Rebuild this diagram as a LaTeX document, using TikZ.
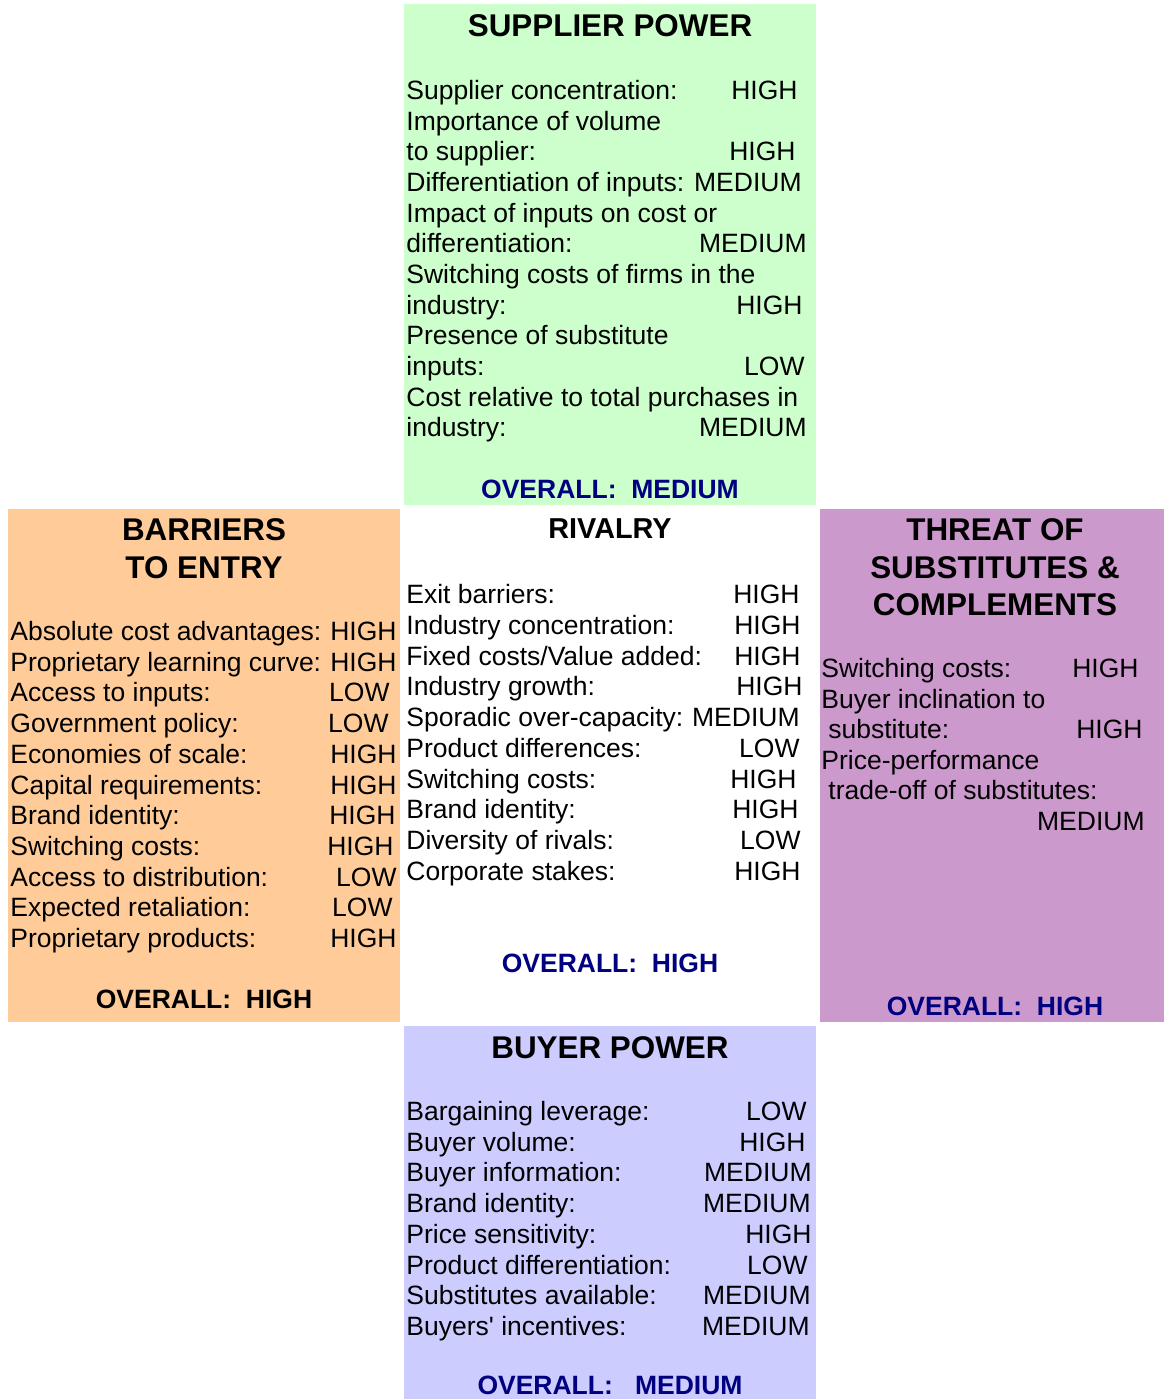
\documentclass[tikz,border=0pt]{standalone}
\usepackage{fontspec}
\setmainfont{Liberation Sans}[Ligatures=TeXOff]

\definecolor{supplierfill}{HTML}{CCFFCC}
\definecolor{entryfill}{HTML}{FFCC99}
\definecolor{substfill}{HTML}{CC99CC}
\definecolor{buyerfill}{HTML}{CCCCFF}
\definecolor{navy}{HTML}{000080}

\tikzset{
  heading/.style={anchor=north, inner sep=0pt, align=center,
    font=\fontsize{15.7}{18.75}\selectfont\bfseries},
  factor/.style={anchor=base west, inner sep=0pt,
    font=\fontsize{13.25}{15.35}\selectfont},
  rating/.style={anchor=base east, inner sep=0pt,
    font=\fontsize{13.25}{15.35}\selectfont},
  overall/.style={anchor=base, inner sep=0pt, text=navy,
    font=\fontsize{13.25}{15.35}\selectfont\bfseries}
}

\begin{document}
\begin{tikzpicture}[x=0.5pt, y=-0.5pt]
  \useasboundingbox (0,0) rectangle (1164,1399);

  % panels
  \fill[supplierfill] (404,4) rectangle (816,505);
  \fill[entryfill] (8,509) rectangle (400,1022);
  \fill[substfill] (820,509) rectangle (1164,1022);
  \fill[buyerfill] (404,1026) rectangle (816,1399);

  % supplier power
  \node[heading] (sup) at (610,14.5) {SUPPLIER POWER};
  \foreach \lab [count=\i] in {Supplier concentration:, Importance of volume,
      to supplier:, Differentiation of inputs:, Impact of inputs on cost or,
      differentiation:, Switching costs of firms in the, industry:,
      Presence of substitute, inputs:, Cost relative to total purchases in,
      industry:}
    \node[factor] (sup-f\i) at (406, 68.85+30.65*\i) {\lab};
  \foreach \i/\val/\xr in {1/HIGH/798, 3/HIGH/796, 4/MEDIUM/802,
      6/MEDIUM/807, 8/HIGH/803, 10/LOW/805, 12/MEDIUM/807}
    \node[rating] (sup-r\i) at (\xr, 68.85+30.65*\i) {\val};
  \node[overall] (sup-all) at (610,498.5) {OVERALL:\ \ MEDIUM};

  % barriers to entry
  \node[heading] (ent) at (204,518.5) {BARRIERS\\TO ENTRY};
  \foreach \lab/\val/\xr [count=\i] in {Absolute cost advantages:/HIGH/397,
      Proprietary learning curve:/HIGH/397, Access to inputs:/LOW/390,
      Government policy:/LOW/389, Economies of scale:/HIGH/397,
      Capital requirements:/HIGH/397, Brand identity:/HIGH/396,
      Switching costs:/HIGH/394, Access to distribution:/LOW/397,
      Expected retaliation:/LOW/393, Proprietary products:/HIGH/397}
  {
    \node[factor] (ent-f\i) at (10, 609.8+30.7*\i) {\lab};
    \node[rating] (ent-r\i) at (\xr, 609.8+30.7*\i) {\val};
  }
  \node[overall, text=black] (ent-all) at (204,1008.5) {OVERALL:\ \ HIGH};

  % rivalry
  \node[heading, font=\fontsize{14.4}{18}\selectfont\bfseries] (riv) at (610,518.5) {RIVALRY};
  \foreach \lab/\val/\xr [count=\i] in {Exit barriers:/HIGH/800,
      Industry concentration:/HIGH/801, {Fixed costs/Value added:}/HIGH/801,
      Industry growth:/HIGH/803, Sporadic over-capacity:/MEDIUM/800,
      Product differences:/LOW/800, Switching costs:/HIGH/797,
      Brand identity:/HIGH/799, Diversity of rivals:/LOW/801,
      Corporate stakes:/HIGH/801}
  {
    \node[factor] (riv-f\i) at (406, 572.75+30.75*\i) {\lab};
    \node[rating] (riv-r\i) at (\xr, 572.75+30.75*\i) {\val};
  }
  \node[overall] (riv-all) at (610,972.5) {OVERALL:\ \ HIGH};

  % threat of substitutes
  \node[heading] (sub) at (995,518.5) {THREAT OF\\SUBSTITUTES \&\\COMPLEMENTS};
  \foreach \xl/\lab [count=\i] in {821/Switching costs:, 821/Buyer inclination to,
      828/substitute:, 821/Price-performance, 828/trade-off of substitutes:}
    \node[factor] (sub-f\i) at (\xl, 646.9+30.6*\i) {\lab};
  \foreach \i/\val/\xr in {1/HIGH/1139, 3/HIGH/1143, 6/MEDIUM/1145}
    \node[rating] (sub-r\i) at (\xr, 646.9+30.6*\i) {\val};
  \node[overall] (sub-all) at (995,1015.5) {OVERALL:\ \ HIGH};

  % buyer power
  \node[heading] (buy) at (610,1036.5) {BUYER POWER};
  \foreach \lab/\val/\xr [count=\i] in {Bargaining leverage:/LOW/807,
      Buyer volume:/HIGH/806, Buyer information:/MEDIUM/812,
      Brand identity:/MEDIUM/811, Price sensitivity:/HIGH/812,
      Product differentiation:/LOW/808, Substitutes available:/MEDIUM/811,
      Buyers' incentives:/MEDIUM/810}
  {
    \node[factor] (buy-f\i) at (406, 1089.8+30.7*\i) {\lab};
    \node[rating] (buy-r\i) at (\xr, 1089.8+30.7*\i) {\val};
  }
  \node[overall] (buy-all) at (610,1394) {OVERALL:\ \ \ MEDIUM};
\end{tikzpicture}
\end{document}
